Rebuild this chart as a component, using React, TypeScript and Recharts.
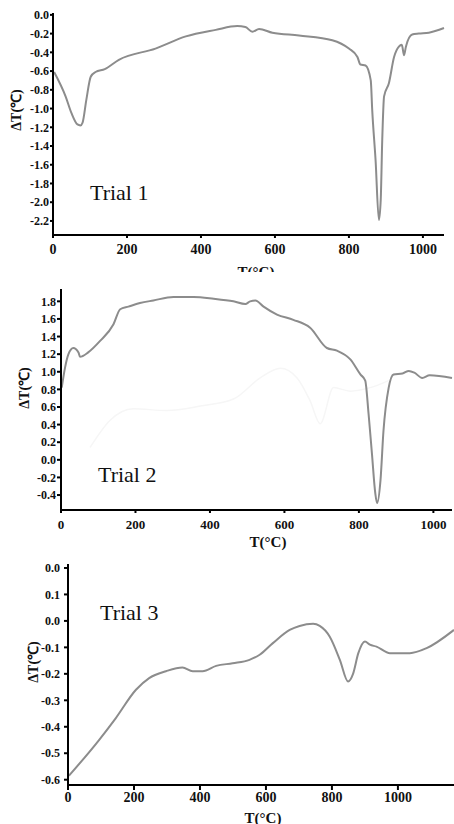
import React from "react";
import { LineChart, Line, XAxis, YAxis } from "recharts";

// Trial 1
const trial1Temp = [3, 34, 50, 66, 74, 80, 90, 102, 115, 140, 178, 277, 359, 440, 498, 520, 539, 557, 593, 665, 755, 800, 823, 831, 845, 859, 863, 872, 881, 886, 890, 895, 908, 922, 935, 943, 949, 954, 971, 989, 1016, 1057];
const trial1Dt = [-0.61, -0.87, -1.05, -1.17, -1.18, -1.15, -0.91, -0.66, -0.61, -0.58, -0.48, -0.36, -0.23, -0.16, -0.12, -0.13, -0.18, -0.15, -0.19, -0.22, -0.27, -0.36, -0.45, -0.53, -0.54, -0.7, -1.02, -1.55, -2.19, -1.97, -1.34, -0.87, -0.73, -0.45, -0.34, -0.32, -0.43, -0.34, -0.21, -0.2, -0.19, -0.14];

// Trial 2
const trial2Temp = [2, 11, 20, 33, 47, 51, 73, 105, 141, 159, 181, 212, 248, 302, 356, 410, 463, 495, 508, 522, 544, 580, 624, 669, 714, 741, 777, 804, 817, 826, 835, 844, 849, 858, 866, 880, 893, 917, 934, 949, 970, 990, 1050];
const trial2Dt = [0.82, 1.05, 1.2, 1.27, 1.22, 1.17, 1.22, 1.35, 1.54, 1.71, 1.74, 1.78, 1.81, 1.85, 1.85, 1.83, 1.8, 1.77, 1.8, 1.81, 1.74, 1.65, 1.59, 1.5, 1.27, 1.24, 1.14, 0.97, 0.9, 0.52, 0.07, -0.38, -0.49, -0.23, 0.33, 0.82, 0.97, 0.98, 1.01, 0.99, 0.93, 0.96, 0.93];
// faint show-through trace visible in the scan
const trial2GhostTemp = [78, 132, 194, 284, 374, 463, 535, 589, 634, 669, 696, 732, 777, 830, 880];
const trial2GhostDt = [0.14, 0.45, 0.58, 0.56, 0.61, 0.69, 0.93, 1.04, 0.93, 0.67, 0.41, 0.82, 0.78, 0.82, 0.9];

// Trial 3
const trial3Temp = [3, 94, 145, 206, 246, 297, 347, 378, 408, 449, 499, 550, 581, 621, 672, 702, 743, 763, 793, 824, 849, 864, 880, 900, 915, 935, 976, 1036, 1087, 1170];
const trial3Dt = [-0.585, -0.45, -0.367, -0.26, -0.216, -0.19, -0.176, -0.19, -0.19, -0.17, -0.16, -0.147, -0.128, -0.084, -0.034, -0.019, -0.011, -0.019, -0.059, -0.147, -0.229, -0.2, -0.122, -0.078, -0.09, -0.097, -0.122, -0.122, -0.103, -0.034];

const xTicks = [0, 200, 400, 600, 800, 1000];
const y1Ticks = [0, -0.2, -0.4, -0.6, -0.8, -1.0, -1.2, -1.4, -1.6, -1.8, -2.0, -2.2];
const y2Ticks = [1.8, 1.6, 1.4, 1.2, 1.0, 0.8, 0.6, 0.4, 0.2, 0.0, -0.2, -0.4];
const y3Ticks = [0.2, 0.1, 0, -0.1, -0.2, -0.3, -0.4, -0.5, -0.6];
// the original figure labels its top tick "0.0"
const y3TickLabels = ["0.0", "0.1", "0.0", "-0.1", "-0.2", "-0.3", "-0.4", "-0.5", "-0.6"];

const zip = (ts: number[], vs: number[]) => ts.map((t, i) => ({ t, v: vs[i] }));
const trial1 = zip(trial1Temp, trial1Dt);
const trial2 = zip(trial2Temp, trial2Dt);
const trial2Ghost = zip(trial2GhostTemp, trial2GhostDt);
const trial3 = zip(trial3Temp, trial3Dt);

const serif = "'Liberation Serif', 'Times New Roman', serif";
const lineColor = "#8c8c8c";
const tickStyle = (size: number) => ({ fill: "#111", fontSize: size, fontWeight: 700, fontFamily: serif });

const abs = (left: number, top: number): React.CSSProperties => ({ position: "absolute", left, top });

const TrialText = ({ x, y, text }: { x: number; y: number; text: string }) => (
  <div style={{ ...abs(x, y), fontFamily: serif, fontSize: 22, lineHeight: "22px", color: "#111", whiteSpace: "nowrap" }}>{text}</div>
);

const YTitle = ({ cx, cy }: { cx: number; cy: number }) => (
  <div style={{ ...abs(cx, cy), transform: "translate(-50%, -50%) rotate(-90deg)", fontFamily: serif, fontWeight: 700, fontSize: 14, color: "#111", whiteSpace: "nowrap" }}>ΔT(℃)</div>
);

const XTitle = ({ cx, cy }: { cx: number; cy: number }) => (
  <div style={{ ...abs(cx, cy), transform: "translate(-50%, -50%)", fontFamily: serif, fontWeight: 700, fontSize: 15, color: "#111", whiteSpace: "nowrap" }}>T(°C)</div>
);

export default function App() {
  return (
    <div style={{ position: "absolute", left: 0, top: 0, width: 454, height: 824, background: "#fff", overflow: "hidden", fontFamily: serif }}>
      <style>{`svg text, svg tspan { font-family: 'Liberation Serif', 'Times New Roman', serif !important; font-weight: 700 !important; }`}</style>
      {/* Trial 1 */}
      <div style={{ ...abs(0, 0), width: 454, height: 272, overflow: "hidden" }}>
        <LineChart width={454} height={290} data={trial1} margin={{ top: 13, right: 10, bottom: 0, left: 0 }}>
          <XAxis dataKey="t" type="number" domain={[0, 1055]} ticks={xTicks} tick={tickStyle(14)} tickSize={3} tickMargin={6} stroke="#000" strokeWidth={2} height={55} interval={0} />
          <XAxis xAxisId="top" orientation="top" type="number" domain={[0, 1055]} tick={false} height={0} stroke="#000" strokeWidth={2} />
          <YAxis type="number" domain={[-2.35, 0.02]} ticks={y1Ticks} tick={tickStyle(12)} tickFormatter={(v: number) => v.toFixed(1)} tickSize={3} tickMargin={1} stroke="#000" strokeWidth={2} width={53} interval={0} />
          <YAxis yAxisId="right" orientation="right" type="number" domain={[-2.35, 0.02]} tick={false} width={0} stroke="#000" strokeWidth={2} />
          <Line dataKey="v" type="monotone" stroke={lineColor} strokeWidth={2} dot={false} isAnimationActive={false} />
        </LineChart>
        <TrialText x={90} y={182} text="Trial 1" />
        <YTitle cx={15} cy={110} />
        <XTitle cx={256} cy={272} />
      </div>

      {/* Trial 2 */}
      <div style={{ ...abs(0, 276), width: 454, height: 272 }}>
        <LineChart width={454} height={272} margin={{ top: 13, right: 2, bottom: 0, left: 0 }}>
          <XAxis dataKey="t" type="number" domain={[0, 1050]} ticks={xTicks} tick={tickStyle(13)} tickSize={3} tickMargin={7} stroke="#000" strokeWidth={2} height={38} interval={0} />
          <XAxis xAxisId="top" orientation="top" type="number" domain={[0, 1050]} tick={false} height={0} stroke="#000" strokeWidth={2} />
          <YAxis type="number" domain={[-0.57, 1.94]} ticks={y2Ticks} tick={tickStyle(12)} tickFormatter={(v: number) => v.toFixed(1)} tickSize={4} tickMargin={1} stroke="#000" strokeWidth={2} width={61} interval={0} />
          <YAxis yAxisId="right" orientation="right" type="number" domain={[-0.57, 1.94]} tick={false} width={0} stroke="#000" strokeWidth={2} />
          <Line data={trial2Ghost} dataKey="v" type="monotone" stroke="#f6f6f6" strokeWidth={1.5} dot={false} isAnimationActive={false} />
          <Line data={trial2} dataKey="v" type="monotone" stroke={lineColor} strokeWidth={2} dot={false} isAnimationActive={false} />
        </LineChart>
        <TrialText x={98} y={188} text="Trial 2" />
        <YTitle cx={23} cy={112} />
        <XTitle cx={268} cy={266} />
      </div>

      {/* Trial 3 */}
      <div style={{ ...abs(0, 552), width: 454, height: 272 }}>
        <LineChart width={454} height={272} data={trial3} margin={{ top: 12, right: 0, bottom: 0, left: 0 }}>
          <XAxis dataKey="t" type="number" domain={[0, 1170]} ticks={xTicks} tick={tickStyle(14)} tickSize={5} tickMargin={2} stroke="#000" strokeWidth={2} height={39} interval={0} />
          <XAxis xAxisId="top" orientation="top" type="number" domain={[0, 1170]} tick={false} height={0} stroke="#000" strokeWidth={3} />
          <YAxis type="number" domain={[-0.62, 0.215]} ticks={y3Ticks} tick={tickStyle(12)} tickFormatter={(v: number, i: number) => y3TickLabels[i]} tickSize={4} tickMargin={4} stroke="#000" strokeWidth={2} width={68} interval={0} />
          <Line dataKey="v" type="monotone" stroke={lineColor} strokeWidth={2} dot={false} isAnimationActive={false} />
        </LineChart>
        <TrialText x={100} y={50} text="Trial 3" />
        <YTitle cx={32} cy={110} />
        <XTitle cx={263} cy={266} />
      </div>
    </div>
  );
}
